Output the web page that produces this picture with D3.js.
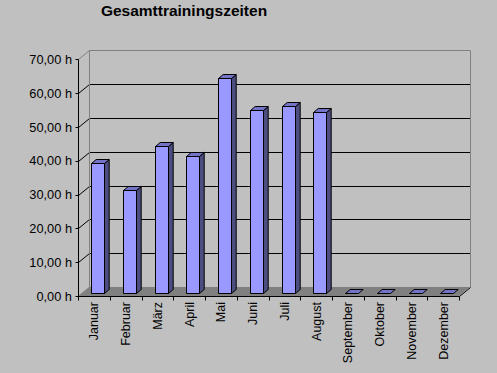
<!DOCTYPE html>
<html>
<head>
<meta charset="utf-8">
<script src="https://cdn.jsdelivr.net/npm/d3@7"></script>
<style>
html,body{margin:0;padding:0;background:#C0C0C0;}
svg{display:block;}
</style>
</head>
<body>
<script>
const months = ["Januar","Februar","März","April","Mai","Juni","Juli","August","September","Oktober","November","Dezember"];
const hours = [38.4,30.5,43.5,40.5,63.8,54.3,55.5,53.7,0,0,0,0];
const yTicks = [0,10,20,30,40,50,60,70];
const title = "Gesamttrainingszeiten";

const W = 497, H = 373;
const svg = d3.select("body").append("svg").attr("width", W).attr("height", H);
svg.append("rect").attr("width", W).attr("height", H).attr("fill", "#C0C0C0");

const x = d3.scaleBand().domain(months).range([78, 459]).paddingInner(0).paddingOuter(0);
const y = d3.scaleLinear().domain([0, 70]).range([296, 59.3]);
const DX = 11, DY = -9;        // wall depth
const bdx = 4.7, bdy = -4;     // bar depth
const bOffX = 3.3, bOffY = -2.7; // bar position in depth
const c = v => Math.round(v) + 0.5; // crisp pixel line

const fmt = v => d3.format(".2f")(v).replace(".", ",") + " h";
const font = "'Liberation Sans', Arial, sans-serif";

const g = svg.append("g");
const x0 = x.range()[0], x1 = x.range()[1];
// floor
g.append("path")
  .attr("d", `M${x0},${y(0)} L${x1},${y(0)} L${x1 + DX},${y(0) + DY} L${x0 + DX},${y(0) + DY} Z`)
  .attr("fill", "#808080");
// back wall gridlines
yTicks.filter(t => t > 0).forEach(t => {
  const col = t === 70 ? "#808080" : "#000";
  g.append("line").attr("x1", x0 + DX).attr("x2", x1 + DX)
    .attr("y1", c(y(t) + DY)).attr("y2", c(y(t) + DY)).attr("stroke", col).attr("stroke-width", 1);
  g.append("line").attr("x1", c(x0)).attr("x2", c(x0 + DX))
    .attr("y1", c(y(t))).attr("y2", c(y(t) + DY)).attr("stroke", col).attr("stroke-width", 1);
});
// back wall borders
g.append("line").attr("x1", c(x0 + DX)).attr("x2", c(x0 + DX)).attr("y1", c(y(70) + DY)).attr("y2", y(0) + DY).attr("stroke", "#808080");
g.append("line").attr("x1", c(x1 + DX)).attr("x2", c(x1 + DX)).attr("y1", c(y(70) + DY)).attr("y2", y(0) + DY).attr("stroke", "#808080");

// bars
const bw = 12.5, bgap = 13 - bOffX;
const bars = svg.append("g");
months.forEach((m, i) => {
  const v = hours[i];
  const bx = c(x(m) + bgap + bOffX);
  const base = c(y(0) + bOffY);
  const top = c(y(v) + bOffY);
  const w = Math.round(bw);
  const grp = bars.append("g").attr("stroke", "#000").attr("stroke-width", 1).attr("stroke-linejoin", "round");
  if (v > 0) {
    grp.append("rect").attr("x", bx).attr("y", top).attr("width", w).attr("height", base - top).attr("fill", "#9999FF");
    grp.append("path").attr("d", `M${bx + w},${top} L${bx + w + bdx},${top + bdy} L${bx + w + bdx},${base + bdy} L${bx + w},${base} Z`).attr("fill", "#4D4D80");
  }
  grp.append("path").attr("d", `M${bx},${top} L${bx + bdx},${top + bdy} L${bx + w + bdx},${top + bdy} L${bx + w},${top} Z`).attr("fill", "#7373C6");
});

// front axes
const ax = svg.append("g").attr("stroke", "#000").attr("stroke-width", 1);
ax.append("line").attr("x1", c(x0)).attr("x2", c(x0)).attr("y1", c(y(70))).attr("y2", c(y(0)));
ax.append("line").attr("x1", c(x0)).attr("x2", c(x1)).attr("y1", c(y(0))).attr("y2", c(y(0)));
ax.append("line").attr("x1", c(x1)).attr("x2", c(x1 + DX)).attr("y1", c(y(0))).attr("y2", c(y(0) + DY));
// y ticks
yTicks.forEach(t => {
  ax.append("line").attr("x1", c(x0) - 3).attr("x2", c(x0)).attr("y1", c(y(t))).attr("y2", c(y(t)));
});
// x ticks
const bounds = months.map(m => x(m)).concat([x1]);
bounds.forEach(b => ax.append("line").attr("x1", c(b)).attr("x2", c(b)).attr("y1", c(y(0))).attr("y2", c(y(0)) + 4));

// y labels
svg.append("g").selectAll("text").data(yTicks).join("text")
  .attr("x", 72).attr("y", d => y(d)).attr("dy", "0.36em")
  .attr("text-anchor", "end").attr("font-family", font).attr("font-size", "12.8px").attr("fill", "#000")
  .text(fmt);

// x labels
svg.append("g").selectAll("text").data(months).join("text")
  .attr("transform", d => `translate(${x(d) + x.bandwidth() / 2 + 4.5},${y(0) + 6}) rotate(-90)`)
  .attr("text-anchor", "end").attr("font-family", font).attr("font-size", "12.5px").attr("fill", "#000")
  .text(d => d);

// title
svg.append("text").attr("x", 184).attr("y", 15.5).attr("text-anchor", "middle")
  .attr("font-family", font).attr("font-size", "15.5px").attr("font-weight", "bold").attr("fill", "#000")
  .text(title);
</script>
</body>
</html>
